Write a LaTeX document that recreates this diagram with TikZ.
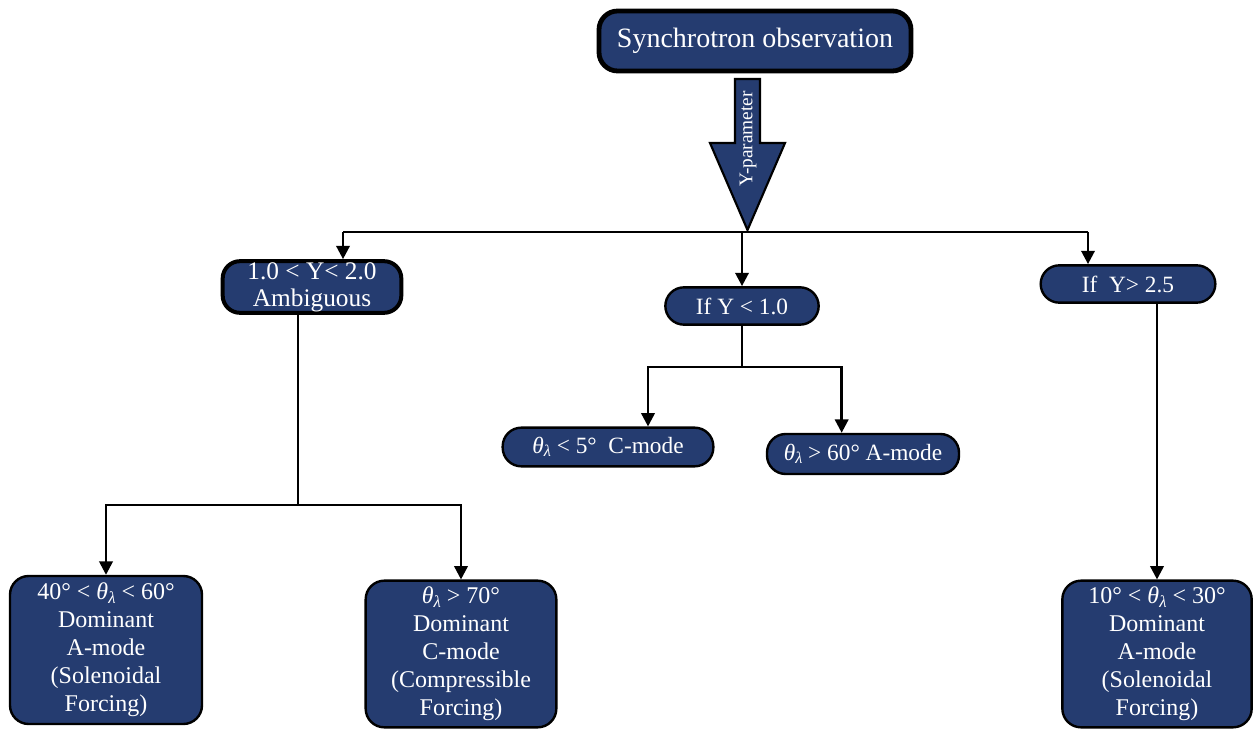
\documentclass[tikz,border=0pt]{standalone}
\usepackage{fontspec}
\setmainfont{Liberation Serif}
\usepackage{xcolor}
\usetikzlibrary{arrows.meta}

\definecolor{navy}{RGB}{37,60,112}
\newcommand{\thl}{\textit{θ}\raisebox{-0.3ex}{\scalebox{0.7}{\textit{λ}}}}

\tikzset{
  box/.style={draw=black, fill=navy, text=white, align=center, rounded corners=14pt,
    line width=1.8pt, inner sep=1pt, font=\fontsize{18}{21}\selectfont},
  thickbox/.style={box, line width=3.6pt},
  pill/.style={box, rounded corners=14pt, font=\fontsize{17.5}{20}\selectfont},
  link/.style={line width=1.9pt},
  arr/.style={link, -{Triangle[width=10pt,length=10pt]}},
}

\begin{document}
\begin{tikzpicture}[x=0.75pt,y=0.75pt,yscale=-1,xscale=1]
\useasboundingbox (0,0) rectangle (1255,730);

% Top node
\node[thickbox, minimum width=234pt, minimum height=45pt, font=\fontsize{21}{24}\selectfont] (obs) at (755,41) {Synchrotron observation};

% Second row
\node[thickbox, line width=3pt, minimum width=134pt, minimum height=36pt, rounded corners=13pt, font=\fontsize{19}{20}\selectfont] (amb) at (312,287) {1.0 < Y< 2.0\\Ambiguous};
\node[pill, minimum width=115pt, minimum height=28pt] (ylow) at (742,306) {If Y < 1.0};
\node[pill, minimum width=131pt, minimum height=28pt] (yhigh) at (1128,284) {If\ \ Y> 2.5};

% Third row
\node[pill, minimum width=158pt, minimum height=29pt] (cmode) at (608,447) {\thl\ < 5°\ \ C-mode};
\node[pill, minimum width=144pt, minimum height=30pt, inner xsep=0pt] (amode) at (863,454) {\thl\ > 60° A-mode};

% Bottom row
\node[box, minimum width=144pt, minimum height=111pt] (dsol) at (106,650) {40° < \thl\ < 60°\\Dominant\\A-mode\\(Solenoidal\\Forcing)};
\node[box, minimum width=143pt, minimum height=110pt] (dcomp) at (461,654) {\thl\ > 70°\\Dominant\\C-mode\\(Compressible\\Forcing)};
\node[box, minimum width=142pt, minimum height=110pt] (rsol) at (1157,654) {10° < \thl\ < 30°\\Dominant\\A-mode\\(Solenoidal\\Forcing)};

%Shape: Block arrow
\draw[line width=1.6pt, fill=navy] (735,79) -- (760,79) -- (760,143) -- (785,143) -- (747.5,230) -- (710,143) -- (735,143) -- cycle;
\node[rotate=90, text=white, inner sep=0pt, font=\fontsize{14.5}{16}\selectfont] (ypar) at (748,139) {Y-parameter};

% Branch bar
\coordinate (jl) at (343,232);
\coordinate (jr) at (1088,232);
\draw[link] (jl) -- (jr);
\draw[arr] (jl) -- (jl |- amb.north);
\draw[arr] (ylow.north |- jl) -- (ylow.north);
\draw[arr] (jr) -- (jr |- yhigh.north);

% Left branch
\coordinate (ld) at (298,505);
\draw[link] (ld |- amb.south) -- (ld);
\draw[arr] (ld) -| (dsol.north);
\draw[arr] (ld) -| (dcomp.north);

% Middle branch
\coordinate (md) at (742,367);
\draw[link] (ylow.south) -- (md);
\draw[arr] (md) -| ([xshift=30pt]cmode.north);
\draw[arr] (md) -| ([xshift=-16pt]amode.north);

% Right branch
\draw[arr] (yhigh.south -| rsol.north) -- (rsol.north);

\end{tikzpicture}
\end{document}
